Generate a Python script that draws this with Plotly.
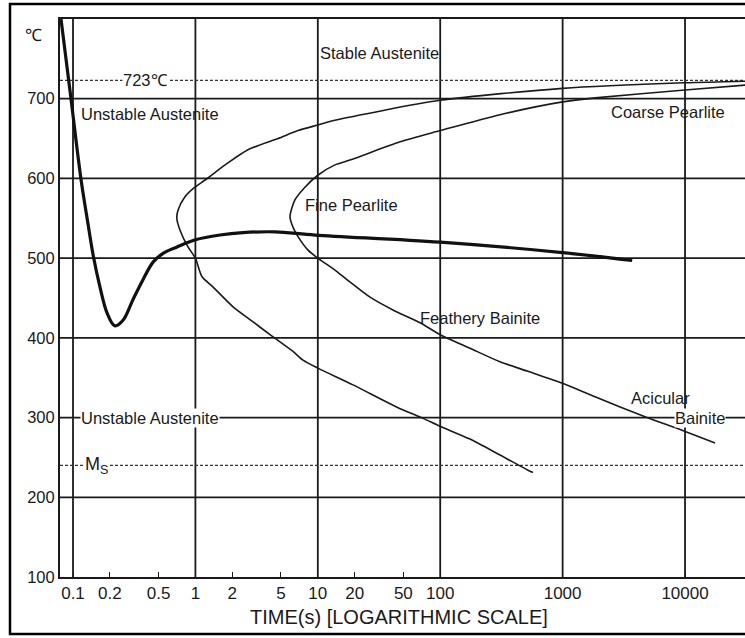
import math
import plotly.graph_objects as go

# Time-temperature-transformation diagram of a eutectoid steel

# Cooling path (thick curve)
cool_time = [0.0798, 0.0963, 0.116, 0.132, 0.146, 0.166, 0.190, 0.220, 0.256, 0.309,
             0.373, 0.451, 0.544, 0.708, 1.0, 1.59, 2.45, 4.47, 9.5, 100, 1000, 3700]
cool_temp = [800, 700, 600, 545, 504, 464, 431, 415, 422, 448,
             473, 495, 506, 514, 523, 529, 532, 533, 529, 520, 507, 497]

# Transformation start curve
start_time = [31000, 10000, 1000, 100, 13.8, 10, 6.89, 4.73, 2.69, 1.75, 1.20, 0.99,
              0.822, 0.721, 0.705, 0.749, 0.87, 1.0, 1.13, 1.39, 2.03, 2.79, 4.07,
              6.27, 7.57, 10, 19.4, 44.4, 72.3, 100, 175, 308, 521, 573]
start_temp = [722, 720, 713, 698, 673, 667, 660, 650, 636, 617, 598, 589,
              577, 560, 550, 535, 514, 500, 477, 464, 439, 423, 404,
              383, 372, 362, 341, 313, 299, 289, 273, 253, 234, 231]

# Transformation finish curve
finish_time = [31000, 10000, 1840, 1000, 308, 100, 47, 18.3, 13.8, 10, 7.85, 6.5,
               5.93, 6.3, 6.89, 8.32, 10, 13.8, 17.3, 26.7, 41.1, 68.4, 100, 175,
               308, 521, 1000, 1840, 4710, 9440, 17600]
finish_temp = [717, 711, 701, 696, 680, 660, 646, 623, 617, 604, 589, 573,
               552, 538, 527, 510, 500, 485, 473, 451, 435, 419, 404, 387,
               370, 358, 343, 326, 301, 284, 268]

x_tick_vals = [0.1, 0.2, 0.5, 1, 2, 5, 10, 20, 50, 100, 1000, 10000]
x_tick_text = ["0.1", "0.2", "0.5", "1", "2", "5", "10", "20", "50", "100", "1000", "10000"]
y_tick_vals = [100, 200, 300, 400, 500, 600, 700]
x_grid = [0.1, 1, 10, 100, 1000, 10000]
y_grid = [200, 300, 400, 500, 600, 700]
eutectoid_temp = 723
ms_temp = 240

X_LOG_RANGE = [-1.1062, 4.490]
Y_RANGE = [100, 800]
INK = "#1a1a1a"
FONT = "Liberation Sans, Arial, sans-serif"

x_lo = 10 ** X_LOG_RANGE[0]
x_hi = 10 ** X_LOG_RANGE[1]

fig = go.Figure()

# grid
for gx in x_grid:
    fig.add_trace(go.Scatter(x=[gx, gx], y=Y_RANGE, mode="lines",
                             line=dict(color=INK, width=1.8), hoverinfo="skip"))
for gy in y_grid:
    fig.add_trace(go.Scatter(x=[x_lo, x_hi], y=[gy, gy], mode="lines",
                             line=dict(color=INK, width=1.8), hoverinfo="skip"))

# reference temperatures
for ref in (eutectoid_temp, ms_temp):
    fig.add_trace(go.Scatter(x=[x_lo, x_hi], y=[ref, ref], mode="lines",
                             line=dict(color="#333333", width=1.2, dash="3px,2px"),
                             hoverinfo="skip"))

# transformation curves
fig.add_trace(go.Scatter(x=start_time, y=start_temp, mode="lines",
                         line=dict(color=INK, width=1.6, shape="spline", smoothing=0.7)))
fig.add_trace(go.Scatter(x=finish_time, y=finish_temp, mode="lines",
                         line=dict(color=INK, width=1.6, shape="spline", smoothing=0.7)))
fig.add_trace(go.Scatter(x=cool_time, y=cool_temp, mode="lines",
                         line=dict(color="#111111", width=3.2, shape="spline", smoothing=1.0)))


def label(text, t, temp, bg=None, size=16.5):
    fig.add_annotation(x=math.log10(t), y=temp, text=text, showarrow=False,
                       xanchor="center", yanchor="middle",
                       font=dict(family=FONT, size=size, color=INK),
                       bgcolor=bg if bg else "rgba(0,0,0,0)", borderpad=0)


label("723℃", 0.394, eutectoid_temp, bg="white")
label("Unstable Austenite", 0.426, 681)
label("Stable Austenite", 32, 757)
label("Coarse Pearlite", 7260, 683)
label("Fine Pearlite", 18.7, 567)
label("Feathery Bainite", 211, 425)
label("Acicular", 6250, 325)
label("Bainite", 13300, 300, bg="white")
label("Unstable Austenite", 0.426, 300, bg="white")
label("M<sub>S</sub>", 0.157, ms_temp, bg="white", size=18)

# temperature unit and axis title
fig.add_annotation(xref="paper", yref="paper", x=-0.039, y=0.971, text="℃",
                   xanchor="center", yanchor="middle", showarrow=False,
                   font=dict(family=FONT, size=17, color=INK))
fig.add_annotation(xref="paper", yref="paper", x=0.495, y=-0.0717,
                   xanchor="center", yanchor="middle",
                   text="TIME(s) [LOGARITHMIC SCALE]", showarrow=False,
                   font=dict(family=FONT, size=20, color=INK))

# outer frame
fig.add_shape(type="rect", xref="paper", yref="paper", x0=-0.073, x1=1.05,
              y0=-0.1022, y1=1.0269, line=dict(color="black", width=2.5))

fig.update_layout(
    width=745, height=638,
    margin=dict(l=60, r=0, t=19, b=61),
    paper_bgcolor="white", plot_bgcolor="white",
    showlegend=False,
    font=dict(family=FONT, color=INK),
    xaxis=dict(type="log", range=X_LOG_RANGE, tickvals=x_tick_vals, ticktext=x_tick_text,
               showgrid=False, zeroline=False, showline=True, linecolor=INK, linewidth=2,
               mirror=True, ticks="inside", ticklen=5, tickcolor=INK,
               tickfont=dict(family=FONT, size=17, color=INK)),
    yaxis=dict(range=Y_RANGE, tickvals=y_tick_vals, showgrid=False, zeroline=False,
               showline=True, linecolor=INK, linewidth=2, ticks="",
               tickfont=dict(family=FONT, size=16.5, color=INK)),
)

fig.write_html("out.html")
